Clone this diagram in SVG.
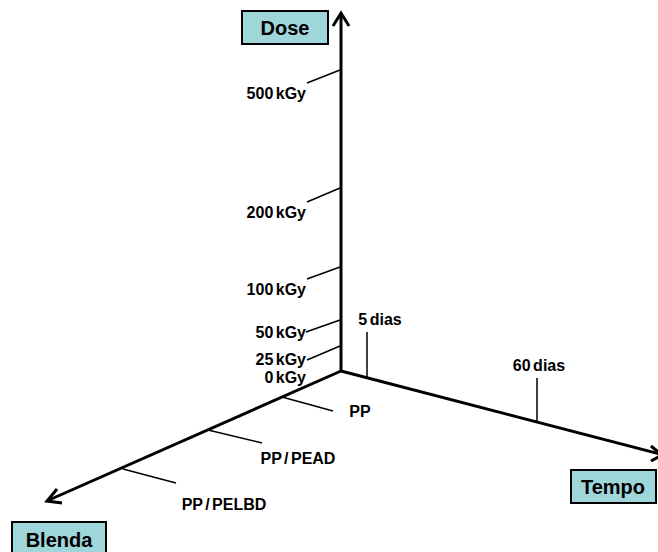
<svg xmlns="http://www.w3.org/2000/svg" width="658" height="552" viewBox="0 0 658 552">
<style>
text{font-family:"Liberation Sans",Arial,sans-serif;font-weight:bold;fill:#000}
.lab{font-size:16px;word-spacing:-2px}
.ttl{font-size:20px}
.box{fill:#9fd6da;stroke:#000;stroke-width:2}
.axis{stroke:#000;stroke-width:3;fill:none}
.tick{stroke:#000;stroke-width:1.5;fill:none}
.head{stroke:#000;stroke-width:3;fill:none;stroke-linecap:butt;stroke-linejoin:miter}
</style>
<rect width="658" height="552" fill="#fff"/>
<g id="connectors">
<line class="axis" x1="341" y1="371" x2="341" y2="14"/>
<polyline class="head" points="333,26 341,13 349,26"/>
<line class="axis" x1="341" y1="371" x2="660" y2="454"/>
<polyline class="head" points="651,446 662,455 651,461"/>
<line class="axis" x1="341" y1="371" x2="49" y2="500"/>
<polyline class="head" points="57,489 47,501 62,503"/>
</g>
<g id="dose-ticks">
<line class="tick" x1="307" y1="83" x2="340" y2="70"/>
<line class="tick" x1="307" y1="202" x2="340" y2="188"/>
<line class="tick" x1="307" y1="279" x2="340" y2="267"/>
<line class="tick" x1="306" y1="332" x2="340" y2="320"/>
<line class="tick" x1="307" y1="360" x2="340" y2="346"/>
</g>
<g id="tempo-ticks">
<line class="tick" x1="367" y1="332" x2="367" y2="377"/>
<line class="tick" x1="537" y1="378" x2="537" y2="421"/>
</g>
<g id="blenda-ticks">
<line class="tick" x1="282" y1="397" x2="333" y2="411"/>
<line class="tick" x1="208" y1="430" x2="262" y2="443"/>
<line class="tick" x1="123" y1="469" x2="176" y2="483"/>
</g>
<g id="node-dose">
<rect class="box" x="242" y="11" width="86" height="33"/>
<text class="ttl" x="285" y="35" text-anchor="middle">Dose</text>
</g>
<g id="node-tempo">
<rect class="box" x="571" y="470" width="85" height="33"/>
<text class="ttl" x="613" y="494" text-anchor="middle">Tempo</text>
</g>
<g id="node-blenda">
<rect class="box" x="12" y="522" width="94" height="34"/>
<text class="ttl" x="59" y="547" text-anchor="middle">Blenda</text>
</g>
<g id="labels">
<text class="lab" x="306" y="99" text-anchor="end">500 kGy</text>
<text class="lab" x="306" y="218" text-anchor="end">200 kGy</text>
<text class="lab" x="306" y="295" text-anchor="end">100 kGy</text>
<text class="lab" x="306" y="338" text-anchor="end">50 kGy</text>
<text class="lab" x="306" y="365" text-anchor="end">25 kGy</text>
<text class="lab" x="306" y="383" text-anchor="end">0 kGy</text>
<text class="lab" x="380" y="325" text-anchor="middle">5 dias</text>
<text class="lab" x="539" y="371" text-anchor="middle">60 dias</text>
<text class="lab" x="360" y="417" text-anchor="middle">PP</text>
<text class="lab" x="298" y="464" text-anchor="middle">PP / PEAD</text>
<text class="lab" x="224" y="510" text-anchor="middle">PP / PELBD</text>
</g>
</svg>
